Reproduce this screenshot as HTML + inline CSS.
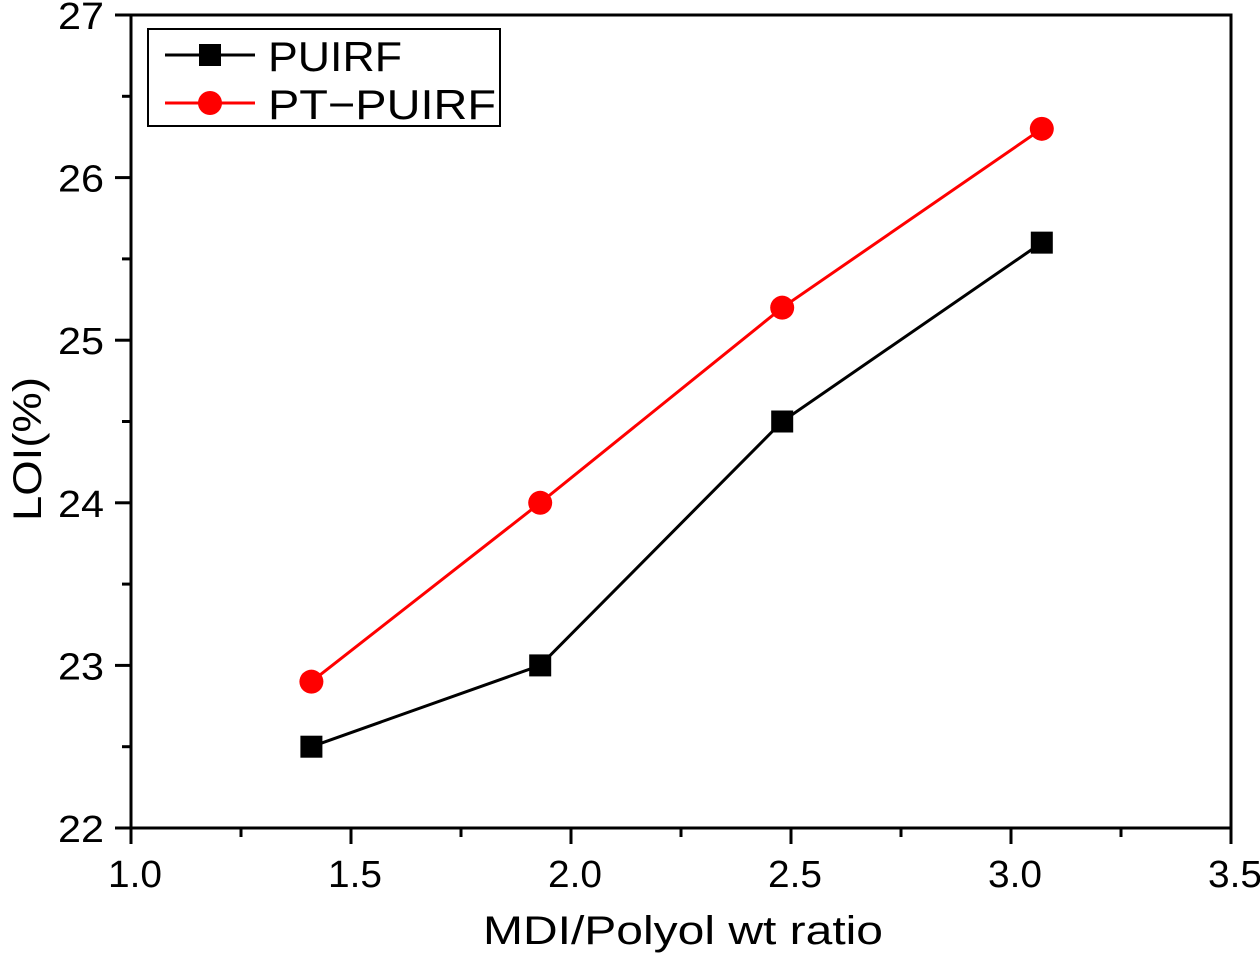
<!DOCTYPE html>
<html><head><meta charset="utf-8"><style>
html,body{margin:0;padding:0;background:#fff;}
svg{display:block;font-family:"Liberation Sans",Arial,sans-serif;}
</style></head><body>
<svg id="chart" width="1260" height="953" viewBox="0 0 1260 953">
<g id="axes"></g><g id="series"></g>
<g>
<rect x="148" y="29" width="352" height="97" fill="#fff" stroke="#000" stroke-width="2"/>
<g>
<line x1="165" y1="55" x2="255" y2="55" stroke="#000" stroke-width="3"/>
<rect x="199" y="44" width="22" height="22" fill="#000"/>
<text x="268" y="71" font-size="42" textLength="134" lengthAdjust="spacingAndGlyphs" fill="#000">PUIRF</text></g>
<g>
<line x1="165" y1="103" x2="255" y2="103" stroke="#f00" stroke-width="3"/>
<circle cx="210" cy="103" r="12" fill="#f00"/>
<text x="268" y="119" font-size="42" textLength="228" lengthAdjust="spacingAndGlyphs" fill="#000">PT−PUIRF</text></g>
</g>
</svg>
<script>
const xValues=[1.41,1.93,2.48,3.07];
const puirf=[22.5,23.0,24.5,25.6];
const ptPuirf=[22.9,24.0,25.2,26.3];
const xTicks=["1.0","1.5","2.0","2.5","3.0","3.5"];
const yTicks=["22","23","24","25","26","27"];
const NS="http://www.w3.org/2000/svg";
const L=131,R=1231,T=15,B=828;
const X=v=>L+(v-1.0)/2.5*(R-L);
const Y=v=>B-(v-22)/5*(B-T);
function mk(tag,attrs,parent){const e=document.createElementNS(NS,tag);for(const k in attrs)e.setAttribute(k,attrs[k]);parent.appendChild(e);return e;}
const ax=document.getElementById('axes'),se=document.getElementById('series');
const frame=mk('rect',{x:L,y:T,width:R-L,height:B-T,fill:'none',stroke:'#000','stroke-width':3},ax);


xTicks.forEach((t,i)=>{const v=parseFloat(t);const x=X(v);
 mk('line',{x1:x,y1:B,x2:x,y2:B+16,stroke:'#000','stroke-width':3},ax);
 if(i<xTicks.length-1){const xm=X(v+0.25);mk('line',{x1:xm,y1:B,x2:xm,y2:B+9,stroke:'#000','stroke-width':3},ax);}
 const tx=mk('text',{x:x+4,y:887,'font-size':38,'text-anchor':'middle',textLength:54,lengthAdjust:'spacingAndGlyphs'},ax);tx.textContent=t;
 
 });
yTicks.forEach((t,i)=>{const v=parseFloat(t);const y=Y(v);
 mk('line',{x1:L-16,y1:y,x2:L,y2:y,stroke:'#000','stroke-width':3},ax);
 if(i<yTicks.length-1){const ym=Y(v+0.5);mk('line',{x1:L-9,y1:ym,x2:L,y2:ym,stroke:'#000','stroke-width':3},ax);}
 const tx=mk('text',{x:104,y:y+14,'font-size':38,'text-anchor':'end',textLength:46,lengthAdjust:'spacingAndGlyphs'},ax);tx.textContent=t;
 
 });
const xt=mk('text',{x:683,y:944,'font-size':40,'text-anchor':'middle',textLength:400,lengthAdjust:'spacingAndGlyphs'},ax);xt.textContent='MDI/Polyol wt ratio';


const yt=mk('text',{x:0,y:0,'font-size':40,'text-anchor':'middle',textLength:144,lengthAdjust:'spacingAndGlyphs',transform:'translate(41,449) rotate(-90)'},ax);yt.textContent='LOI(%)';


function series(vals,color,shape,name){
 const pts=vals.map((v,i)=>X(xValues[i])+','+Y(v)).join(' ');
 const pl=mk('polyline',{points:pts,fill:'none',stroke:color,'stroke-width':3},se);
 
 
 vals.forEach((v,i)=>{const cx=X(xValues[i]),cy=Y(v);let m;
  if(shape==='sq')m=mk('rect',{x:cx-11,y:cy-11,width:22,height:22,fill:color},se);
  else m=mk('circle',{cx:cx,cy:cy,r:12,fill:color},se);
  
  });}
series(puirf,'#000','sq','puirf');
series(ptPuirf,'#f00','ci','pt-puirf');
</script>
</body></html>
